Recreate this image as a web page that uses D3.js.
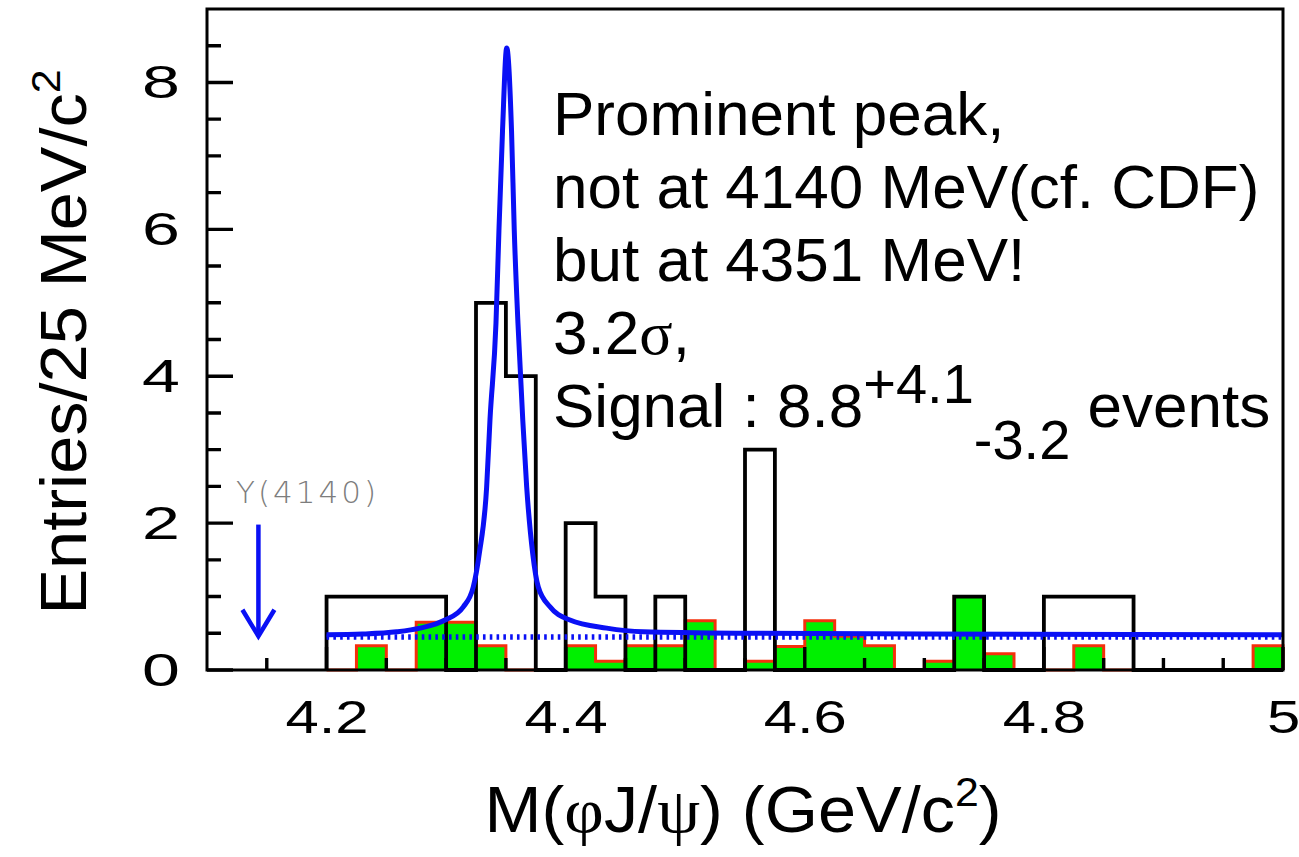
<!DOCTYPE html>
<html>
<head>
<meta charset="utf-8">
<script src="https://cdn.jsdelivr.net/npm/d3@7"></script>
<style>
  body { margin: 0; background: #ffffff; }
  svg { display: block; }
</style>
</head>
<body>
<svg id="chart" width="1299" height="857"></svg>
<script>
// 25 MeV/c^2 bins covering 4.200 - 5.000 GeV/c^2
const binStart = 4.2;
const binWidth = 0.025;

// Observed entries per bin
const dataCounts = [1, 1, 1, 1, 0, 5, 4, 0, 2, 1, 0, 1, 0, 0, 3, 0,
                    0, 0, 0, 0, 0, 1, 0, 0, 1, 1, 1, 0, 0, 0, 0, 0];

// Background estimate per bin
const bkgCounts = [0, 0.33, 0, 0.65, 0.65, 0.33, 0, 0, 0.33, 0.12, 0.33, 0.33, 0.67, 0, 0.12, 0.32,
                   0.67, 0.46, 0.33, 0, 0.12, 1.0, 0.22, 0, 0, 0.33, 0, 0, 0, 0, 0, 0.33];

// Fit result (signal + background), sampled along the mass axis
const fitMass  = [4.200, 4.230, 4.2587, 4.2782, 4.2991, 4.3144, 4.3227, 4.3278, 4.3339, 4.3367,
                  4.3417, 4.3442, 4.3472, 4.3507, 4.3547, 4.3570, 4.3601, 4.3641, 4.3674, 4.3724,
                  4.3771, 4.3869, 4.4036, 4.4343, 4.4647, 4.550, 4.700, 5.000];
const fitValue = [0.48, 0.49, 0.52, 0.57, 0.68, 0.86, 1.13, 1.59, 2.49, 3.41,
                  4.72, 5.99, 7.35, 8.47, 7.35, 5.99, 4.72, 3.41, 2.49, 1.59,
                  1.13, 0.86, 0.68, 0.57, 0.52, 0.50, 0.49, 0.48];

// Background-only component of the fit
const bkgLineMass  = [4.2, 5.0];
const bkgLineValue = [0.45, 0.45];

// Axis ticks
const xMajorTicks = [4.2, 4.4, 4.6, 4.8, 5.0];
const xTickLabels = ["4.2", "4.4", "4.6", "4.8", "5"];
const xMinorTicks = [4.15, 4.25, 4.3, 4.35, 4.45, 4.5, 4.55, 4.65, 4.7, 4.75, 4.85, 4.9, 4.95];
const yMajorTicks = [0, 2, 4, 6, 8];
const yTickLabels = ["0", "2", "4", "6", "8"];
const yMinorTicks = [0.5, 1, 1.5, 2.5, 3, 3.5, 4.5, 5, 5.5, 6.5, 7, 7.5, 8.5];

// Expected position of the Y(4140)
const y4140Mass = 4.143;

// Annotation lines
const noteLines = ["Prominent peak,", "not at 4140 MeV(cf. CDF)", "but at 4351 MeV!"];

const svg = d3.select("#chart");
const plot = { left: 207, right: 1283, top: 9, bottom: 670 };

const x = d3.scaleLinear().domain([4.1, 5.0]).range([plot.left, plot.right]);
const y = d3.scaleLinear().domain([0, 9]).range([plot.bottom, plot.top]);

const sans = "'Liberation Sans', Arial, Helvetica, sans-serif";
const serif = "'Liberation Serif', 'Times New Roman', serif";
const blue = "#0a10f5";

// Step outline of a histogram, closed down to zero at both ends
function stepPoints(counts) {
  const pts = [[binStart, 0]];
  counts.forEach((c, i) => {
    const lo = binStart + i * binWidth;
    pts.push([lo, c], [lo + binWidth, c]);
  });
  pts.push([binStart + counts.length * binWidth, 0]);
  return pts;
}
const stepLine = d3.line().x(d => x(d[0])).y(d => y(d[1]));

// Background estimate: green fill, red outline
const bkgPts = stepPoints(bkgCounts);
svg.append("path")
  .attr("d", stepLine(bkgPts) + "Z")
  .attr("fill", "#00f000")
  .attr("stroke", "none");
svg.append("path")
  .attr("d", stepLine(bkgPts))
  .attr("fill", "none")
  .attr("stroke", "#f5300c")
  .attr("stroke-width", 3)
  .attr("stroke-linejoin", "miter");

// Observed data: black outline
svg.append("path")
  .attr("d", stepLine(stepPoints(dataCounts)))
  .attr("fill", "none")
  .attr("stroke", "#000")
  .attr("stroke-width", 3.8)
  .attr("stroke-linejoin", "miter");

// Tick labels (wide digits)
const xLabelStretch = 1.3;
const yLabelStretch = 1.45;
const xAxisLabels = svg.append("g")
  .attr("transform", `translate(0,${plot.bottom})`)
  .call(d3.axisBottom(x).tickValues(xMajorTicks).tickSize(0).tickPadding(30)
        .tickFormat((d, i) => xTickLabels[i]));
xAxisLabels.select(".domain").remove();
xAxisLabels.selectAll("text")
  .attr("font-family", sans).attr("font-size", 46).attr("fill", "#000")
  .attr("transform", `scale(${xLabelStretch},1)`);

const yAxisLabels = svg.append("g")
  .attr("transform", `translate(${plot.left},0)`)
  .call(d3.axisLeft(y).tickValues(yMajorTicks).tickSize(0).tickPadding(27 / yLabelStretch)
        .tickFormat((d, i) => yTickLabels[i]));
yAxisLabels.select(".domain").remove();
yAxisLabels.selectAll("text")
  .attr("font-family", sans).attr("font-size", 47).attr("fill", "#000")
  .attr("transform", `scale(${yLabelStretch},1)`);

// Background-only fit component (dotted)
svg.append("path")
  .attr("d", d3.line().x((d, i) => x(bkgLineMass[i])).y((d, i) => y(bkgLineValue[i]))(bkgLineMass))
  .attr("fill", "none")
  .attr("stroke", blue)
  .attr("stroke-width", 5.5)
  .attr("stroke-dasharray", "2.6,4.2");

// Full fit curve
svg.append("path")
  .attr("d", d3.line().curve(d3.curveMonotoneX)
    .x((d, i) => x(fitMass[i])).y((d, i) => y(fitValue[i]))(fitMass))
  .attr("fill", "none")
  .attr("stroke", blue)
  .attr("stroke-width", 5)
  .attr("stroke-linejoin", "round");

// Frame
svg.append("rect")
  .attr("x", plot.left).attr("y", plot.top)
  .attr("width", plot.right - plot.left).attr("height", plot.bottom - plot.top)
  .attr("fill", "none").attr("stroke", "#000").attr("stroke-width", 3);

// Inward ticks on the bottom and left edges, drawn as one path
const tickSegments = [];
xMinorTicks.forEach(v => tickSegments.push(`M${x(v)},${plot.bottom}V${plot.bottom - 12}`));
xMajorTicks.forEach(v => tickSegments.push(`M${x(v)},${plot.bottom}V${plot.bottom - 23}`));
yMinorTicks.forEach(v => tickSegments.push(`M${plot.left},${y(v)}H${plot.left + 14}`));
yMajorTicks.forEach(v => tickSegments.push(`M${plot.left},${y(v)}H${plot.left + 26}`));
svg.append("path")
  .attr("d", tickSegments.join(""))
  .attr("fill", "none")
  .attr("stroke", "#000")
  .attr("stroke-width", 3.4);

// Y(4140) marker: label and arrow
const ax = x(y4140Mass);
svg.append("text")
  .attr("x", 236).attr("y", 503)
  .attr("font-family", "'DejaVu Sans', sans-serif")
  .attr("font-weight", 300)
  .attr("font-size", 31)
  .attr("letter-spacing", 3)
  .attr("fill", "#7d7d7d")
  .text("Y(4140)");
const arrow = svg.append("g").attr("stroke", blue).attr("stroke-width", 4.5).attr("fill", "none")
  .attr("stroke-linecap", "butt");
arrow.append("line").attr("x1", ax).attr("x2", ax).attr("y1", y(1.98)).attr("y2", y(0.46));
arrow.append("path")
  .attr("d", `M${ax - 16},${y(0.82)} L${ax},${y(0.46)} L${ax + 16},${y(0.82)}`)
  .attr("stroke-linejoin", "miter");

// Annotation
const note = svg.append("g").attr("font-family", sans).attr("font-size", 62).attr("fill", "#000");
const noteX = 553, noteY0 = 135, noteDy = 73;
noteLines.forEach((t, i) => {
  note.append("text").attr("x", noteX).attr("y", noteY0 + i * noteDy).text(t);
});
const sig = note.append("text").attr("x", noteX).attr("y", noteY0 + 3 * noteDy);
sig.append("tspan").text("3.2");
sig.append("tspan").attr("font-family", serif).text("σ");
sig.append("tspan").text(",");
const sigEv = note.append("text").attr("x", noteX).attr("y", noteY0 + 4 * noteDy);
sigEv.append("tspan").text("Signal : 8.8");
sigEv.append("tspan").attr("font-size", 56).attr("dy", -24).text("+4.1");
sigEv.append("tspan").attr("font-size", 56).attr("dy", 56).text("-3.2");
sigEv.append("tspan").attr("dy", -32).text(" events");

// Axis titles
const yTitle = svg.append("text")
  .attr("transform", "translate(86,342) rotate(-90) scale(1.07,1)")
  .attr("text-anchor", "middle")
  .attr("font-family", sans).attr("font-size", 64).attr("fill", "#000");
yTitle.append("tspan").text("Entries/25 MeV/c");
yTitle.append("tspan").attr("font-size", 40).attr("dy", -26).text("2");

const xTitle = svg.append("text")
  .attr("transform", "translate(743,832) scale(1.07,1)")
  .attr("text-anchor", "middle")
  .attr("font-family", sans).attr("font-size", 64).attr("fill", "#000");
xTitle.append("tspan").text("M(");
xTitle.append("tspan").attr("font-family", serif).text("φ");
xTitle.append("tspan").text("J/");
xTitle.append("tspan").attr("font-family", serif).text("ψ");
xTitle.append("tspan").text(") (GeV/c");
xTitle.append("tspan").attr("font-size", 40).attr("dy", -26).text("2");
xTitle.append("tspan").attr("dy", 26).text(")");
</script>
</body>
</html>
